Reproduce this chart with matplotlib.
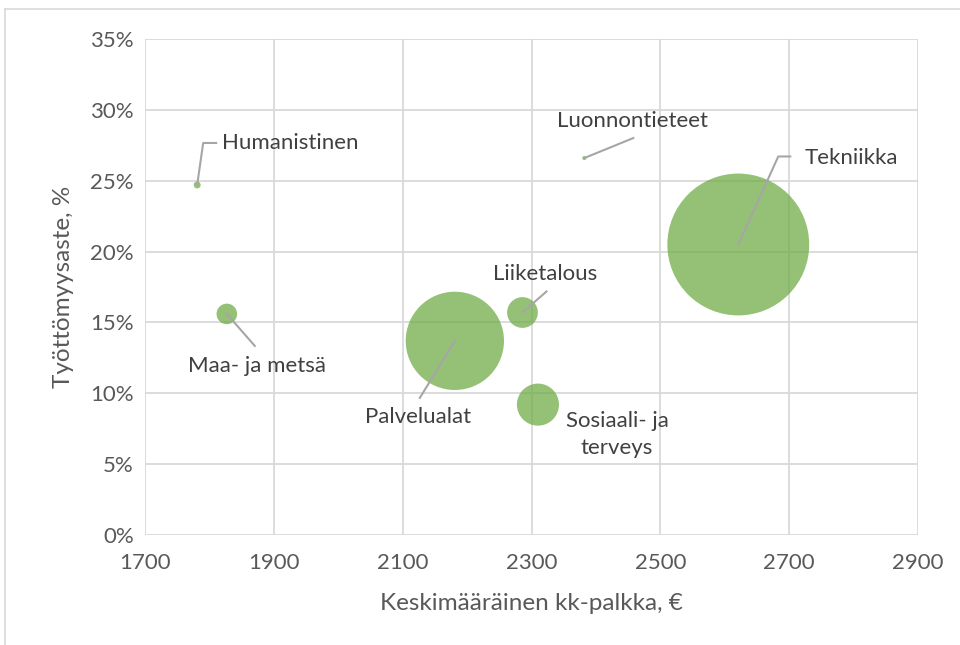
import matplotlib
matplotlib.use("Agg")
import matplotlib.pyplot as plt
from matplotlib.lines import Line2D
from matplotlib.ticker import FuncFormatter
import numpy as np

plt.rcParams['font.family'] = ['Lato', 'DejaVu Sans']

# data
aloja = ["Humanistinen", "Luonnontieteet", "Tekniikka", "Liiketalous",
         "Maa- ja metsä", "Palvelualat", "Sosiaali- ja\nterveys"]
palkka = [1781, 2382, 2621, 2286, 1827, 2181, 2310]
tyottomyys = [24.7, 26.6, 20.5, 15.7, 15.6, 13.7, 9.2]
koko = [12, 4, 5000, 235, 105, 2400, 440]

x_ticks = [1700, 1900, 2100, 2300, 2500, 2700, 2900]
y_ticks = [0, 5, 10, 15, 20, 25, 30, 35]

# label placement: leader line points and text position, pixels from the bubble centre
leader = [[(6, 42), (19, 42)], [(49, 20)], [(40, 88), (52, 88)], [(24, 21)],
          [(28, -32)], [(-35, -57)], []]
teksti = [(25, 42, 'left'), (48, 37, 'center'), (66, 86, 'left'), (23, 39, 'center'),
          (30, -52, 'center'), (-37, -76, 'center'), (79, -30, 'center')]

W, H = 960, 645
fig = plt.figure(figsize=(W / 100, H / 100), dpi=100)
ax = fig.add_axes([145 / W, 1 - 535 / H, (918 - 145) / W, (535 - 39) / H])

# outer chart frame (only top and left visible in the picture)
fig.add_artist(Line2D([5 / W, 5 / W], [0, 1 - 9 / H], color='#D9D9D9', lw=1.2))
fig.add_artist(Line2D([5 / W, 1], [1 - 9 / H, 1 - 9 / H], color='#D9D9D9', lw=1.2))

ax.set_xlim(1700, 2900)
ax.set_ylim(0, 35)
ax.set_xticks(x_ticks)
ax.set_yticks(y_ticks)
ax.yaxis.set_major_formatter(FuncFormatter(lambda v, p: f"{v:.0f}%"))
ax.grid(True, color='#D9D9D9', lw=1.3)
ax.set_axisbelow(True)
for s in ax.spines.values():
    s.set_visible(False)
ax.tick_params(length=0, labelsize=16, colors='#595959')
ax.tick_params(axis='x', pad=13)
ax.tick_params(axis='y', pad=8)

# bubble area proportional to value, biggest one ~142 px across
max_d = 0.286 * ax.get_window_extent().height
koot = np.array(koko) / max(koko) * (max_d * 72 / 100) ** 2
ax.scatter(palkka, tyottomyys, s=koot, color='#70AD47', alpha=0.75, lw=0, zorder=3)

ax.set_xlabel("Keskimääräinen kk-palkka, €", fontsize=17.5, color='#595959', labelpad=14)
ax.set_ylabel("Työttömyysaste, %", fontsize=17.5, color='#595959', labelpad=12)

fig.canvas.draw()
for i in range(len(aloja)):
    px, py = ax.transData.transform((palkka[i], tyottomyys[i]))
    if leader[i]:
        xs = [px] + [px + d[0] for d in leader[i]]
        ys = [py] + [py + d[1] for d in leader[i]]
        fig.add_artist(Line2D(np.array(xs) / W, np.array(ys) / H, color='#A6A6A6', lw=1.5))
    tx, ty, ha = teksti[i]
    fig.text((px + tx) / W, (py + ty) / H, aloja[i], ha=ha, va='center',
             fontsize=16, color='#404040', linespacing=1.45, multialignment='center')

fig.savefig("out.png", dpi=100)
